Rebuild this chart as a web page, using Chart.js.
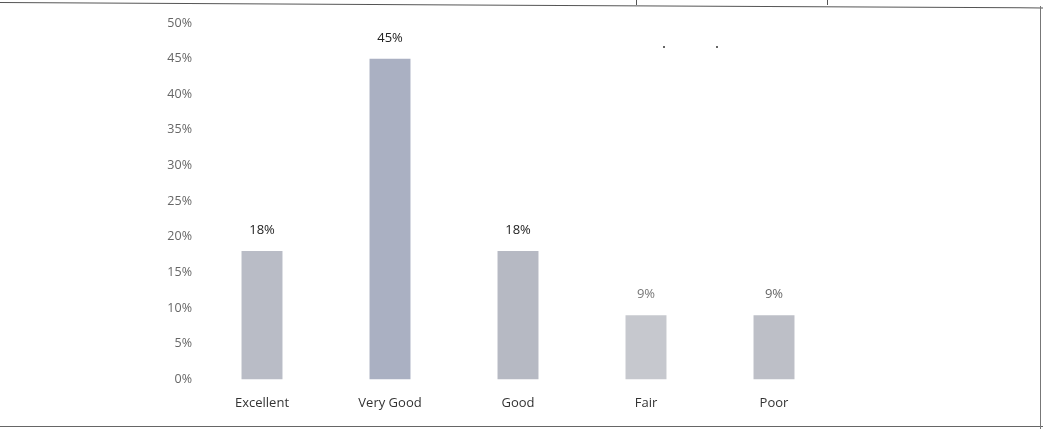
<!DOCTYPE html>
<html>
<head>
<meta charset="utf-8">
<script src="https://cdn.jsdelivr.net/npm/chart.js@4/dist/chart.umd.min.js"></script>
<style>
  html, body { margin: 0; padding: 0; background: #fff; }
  #wrap { position: relative; width: 1043px; height: 429px; overflow: hidden; }
  #chart { position: absolute; left: 0; top: 0; }
  .frame-top { position: absolute; left: 0; top: 2px; width: 1043px; height: 0; border-top: 1.5px solid #555; transform: rotate(0.3deg); transform-origin: left top; }
  .frame-bottom { position: absolute; left: 0; top: 426px; width: 1043px; border-top: 1.5px solid #666; }
  .frame-right { position: absolute; left: 1040px; top: 6px; height: 423px; border-left: 1px solid #777; }
  .tick { position: absolute; top: 0; height: 5px; border-left: 1px solid #555; }
  .dot { position: absolute; width: 2px; height: 2px; background: #333; border-radius: 1px; }
</style>
</head>
<body>
<div id="wrap">
  <canvas id="chart" width="1043" height="429"></canvas>
  <div class="frame-top"></div>
  <div class="tick" style="left:636px"></div>
  <div class="tick" style="left:827px"></div>
  <div class="frame-bottom"></div>
  <div class="frame-right"></div>
  <div class="dot" style="left:663px;top:46px"></div>
  <div class="dot" style="left:716px;top:46px"></div>
</div>
<script>
const ratings = ["Excellent", "Very Good", "Good", "Fair", "Poor"];
const shares = [18, 45, 18, 9, 9];
const barColors = ["#b9bcc6", "#aab0c2", "#b6b9c3", "#c6c8ce", "#bdbfc7"];
const labelColors = ["#222", "#222", "#222", "#777", "#666"];

// draws the % values above each bar
const valueLabels = {
  id: "valueLabels",
  afterDatasetsDraw(chart) {
    const ctx = chart.ctx;
    const meta = chart.getDatasetMeta(0);
    ctx.save();
    ctx.font = "13px 'Open Sans', sans-serif";
    ctx.textAlign = "center";
    ctx.textBaseline = "bottom";
    meta.data.forEach((bar, i) => {
      ctx.fillStyle = labelColors[i];
      ctx.fillText(shares[i] + "%", bar.x, bar.y - 14);
    });
    ctx.restore();
  }
};

new Chart(document.getElementById("chart").getContext("2d"), {
  type: "bar",
  data: {
    labels: ratings,
    datasets: [{
      data: shares,
      backgroundColor: barColors,
      barPercentage: 0.32,
      categoryPercentage: 1
    }]
  },
  options: {
    responsive: false,
    animation: false,
    layout: { padding: { top: 23, right: 205, bottom: 2, left: 0 } },
    plugins: {
      legend: { display: false },
      tooltip: { enabled: false }
    },
    scales: {
      x: {
        grid: { display: false, drawTicks: false },
        border: { display: false },
        ticks: {
          color: "#333",
          padding: 16,
          font: { family: "'Open Sans', sans-serif", size: 13 }
        }
      },
      y: {
        min: 0,
        max: 50,
        afterFit(scale) { scale.width = 198; },
        grid: { display: false, drawTicks: false },
        border: { display: false },
        ticks: {
          stepSize: 5,
          color: "#666",
          padding: 6,
          font: { family: "'Open Sans', sans-serif", size: 12.5 },
          callback: v => v + "%"
        }
      }
    }
  },
  plugins: [valueLabels]
});
</script>
</body>
</html>
